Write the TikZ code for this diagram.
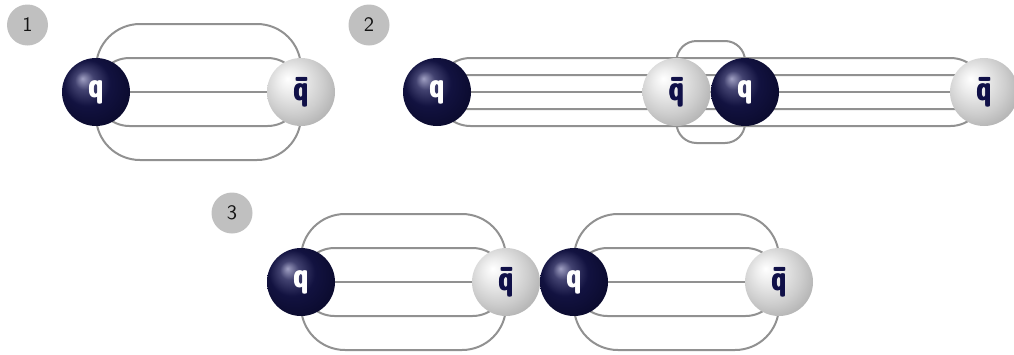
\documentclass[tikz,border=0pt]{standalone}
\usepackage{graphicx}
\usetikzlibrary{calc,backgrounds}

% colours
\definecolor{fluxgray}{RGB}{145,145,145}
\definecolor{qhi}{RGB}{160,160,195}
\definecolor{qmid}{RGB}{66,66,112}
\definecolor{qbody}{RGB}{18,18,64}
\definecolor{qdeep}{RGB}{10,10,44}
\definecolor{qedge}{RGB}{3,3,26}
\definecolor{bmid}{RGB}{236,236,236}
\definecolor{bbody}{RGB}{205,205,205}
\definecolor{bdeep}{RGB}{160,160,160}
\definecolor{bedge}{RGB}{100,100,100}
\definecolor{qink}{RGB}{16,16,72}
\definecolor{tagfill}{RGB}{192,192,192}
\definecolor{tagink}{RGB}{20,20,20}

% sphere shadings: highlight up and to the left
\pgfdeclareradialshading{quarkball}{\pgfpoint{-10bp}{10bp}}{%
  color(0bp)=(qhi); color(7bp)=(qmid); color(17bp)=(qbody);
  color(32bp)=(qdeep); color(50bp)=(qedge)}
\pgfdeclareradialshading{antiball}{\pgfpoint{-10bp}{10bp}}{%
  color(0bp)=(white); color(9bp)=(bmid); color(22bp)=(bbody);
  color(38bp)=(bdeep); color(52bp)=(bedge)}

\tikzset{
  ball/.style={circle, minimum size=68pt, inner sep=0pt,
    font=\sffamily\bfseries},
  quark/.style={ball, shading=quarkball, text=white},
  antiquark/.style={ball, shading=antiball, text=qink},
  tag/.style={circle, fill=tagfill, minimum size=41pt, inner sep=0pt,
    text=tagink, font=\sffamily},
  flux/.style={draw=fluxgray, line width=2pt},
}
% heavier glyph: the same letter set four times, slightly offset
\newcommand\heavy[1]{%
  \rlap{#1}\rlap{\raisebox{0.3pt}{#1}}%
  \hspace{0.5pt}\rlap{#1}\raisebox{0.3pt}{#1}}
% glyphs scaled from 10pt type
\newcommand\qsym{\scalebox{2.55}[3.35]{\heavy{q}}}
\newcommand\qbarsym{\scalebox{2.55}[3.35]{\heavy{\=q}}}
\newcommand\tagsym[1]{\scalebox{2.05}{#1}}

\begin{document}
\begin{tikzpicture}[x=1pt, y=-1pt]
\useasboundingbox (0,0) rectangle (1014,354);

% step labels
\node[tag] (t1) at (27.5,25) {\tagsym{1}};
\node[tag] (t2) at (369,25) {\tagsym{2}};
\node[tag] (t3) at (232,213) {\tagsym{3}};

% panel 1
\node[quark]     (q1)  at (96,92)  {\qsym};
\node[antiquark] (qb1) at (301,92) {\qbarsym};

% panel 2
\node[quark]     (q2a)  at (437,92)   {\qsym};
\node[antiquark] (qb2a) at (676.5,92) {\qbarsym};
\node[quark]     (q2b)  at (745,92)   {\qsym};
\node[antiquark] (qb2b) at (984,92)   {\qbarsym};

% panel 3
\node[quark]     (q3a)  at (301,282) {\qsym};
\node[antiquark] (qb3a) at (506,282) {\qbarsym};
\node[quark]     (q3b)  at (574,282) {\qsym};
\node[antiquark] (qb3b) at (779,282) {\qbarsym};

\begin{scope}[on background layer]
  % a quark pair held by five flux lines
  \foreach \a/\b in {q1/qb1, q3a/qb3a, q3b/qb3b}{
    \draw[flux] (\a.center) -- (\b.center);
    \draw[flux, rounded corners=44pt] (\a.center) |- ($(\b.center)+(0,-68)$) -- (\b.center);
    \draw[flux, rounded corners=44pt] (\a.center) |- ($(\b.center)+(0,68)$) -- (\b.center);
    \draw[flux, rounded corners=33.5pt] (\a.center) |- ($(\b.center)+(0,-34)$) -- (\b.center);
    \draw[flux, rounded corners=33.5pt] (\a.center) |- ($(\b.center)+(0,34)$) -- (\b.center);
  }
  % stretched string through the newly created pair
  \draw[flux] (q2a.center) -- (qb2b.center);
  \draw[flux, rounded corners=33.5pt] (q2a.center) |- ($(qb2b.center)+(0,-34)$) -- (qb2b.center);
  \draw[flux, rounded corners=33.5pt] (q2a.center) |- ($(qb2b.center)+(0,34)$) -- (qb2b.center);
  \draw[flux, rounded corners=16.5pt] (q2a.center) |- ($(qb2b.center)+(0,-17)$) -- (qb2b.center);
  \draw[flux, rounded corners=16.5pt] (q2a.center) |- ($(qb2b.center)+(0,17)$) -- (qb2b.center);
  \draw[flux, rounded corners=20pt] (qb2a.center) |- ($(q2b.center)+(0,-51)$) -- (q2b.center);
  \draw[flux, rounded corners=20pt] (qb2a.center) |- ($(q2b.center)+(0,51)$) -- (q2b.center);
\end{scope}
\end{tikzpicture}
\end{document}
